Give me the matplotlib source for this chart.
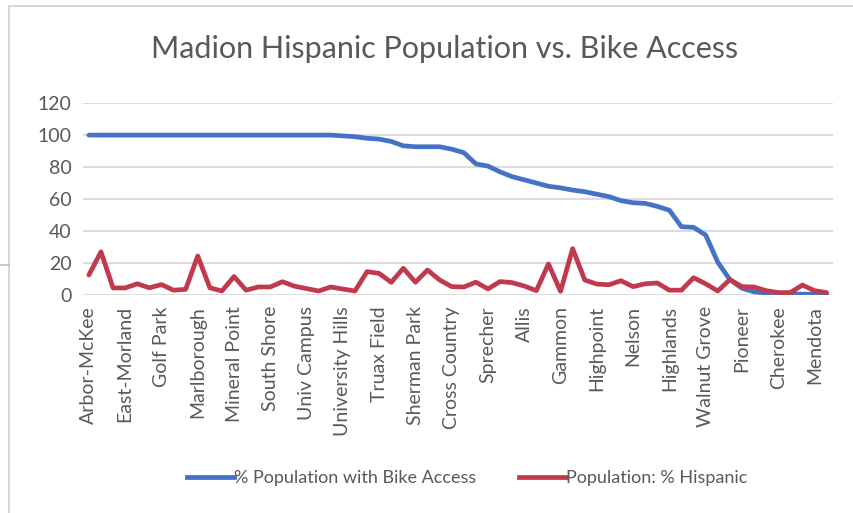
import numpy as np
import matplotlib
matplotlib.use('Agg')
import matplotlib.pyplot as plt
from matplotlib.lines import Line2D

# labels shown on the axis (every third neighbourhood)
shown_labels = ['Arbor-McKee', 'East-Morland', 'Golf Park', 'Marlborough', 'Mineral Point',
                'South Shore', 'Univ Campus', 'University Hills', 'Truax Field', 'Sherman Park',
                'Cross Country', 'Sprecher', 'Allis', 'Gammon', 'Highpoint', 'Nelson',
                'Highlands', 'Walnut Grove', 'Pioneer', 'Cherokee', 'Mendota']
label_step = 3

bike_access = [100, 100, 100, 100, 100, 100, 100, 100, 100, 100,
               100, 100, 100, 100, 100, 100, 100, 100, 100, 100,
               100, 99.5, 99, 98, 97.5, 96, 93.3, 92.7, 92.7, 92.7,
               91.2, 89, 82, 80.6, 77, 74, 72, 70, 68, 67,
               65.6, 64.6, 63, 61.5, 59, 57.7, 57.3, 55.4, 53, 42.7,
               42.3, 37.5, 20.5, 9.6, 4.2, 2, 1.2, 0.8, 0.7, 0.5,
               0.5, 0.2]

hispanic = [12.5, 27, 4.4, 4.4, 7, 4.5, 6.5, 3, 3.5, 24.4,
            4.5, 2.5, 11.5, 3, 5, 5, 8.3, 5.5, 4, 2.5,
            5, 3.7, 2.5, 14.6, 13.5, 7.9, 16.7, 8, 15.6, 9.4,
            5.2, 5, 8, 3.8, 8.4, 7.7, 5.6, 2.7, 19.4, 2.3,
            29, 9.4, 6.8, 6.4, 8.9, 5.2, 7, 7.5, 3, 3,
            10.8, 7, 2.5, 9.6, 5.2, 5, 2.7, 1.5, 1.5, 6.2,
            2.7, 1.5]

blue = '#4472C4'
red = '#C0394D'
gray_txt = '#595959'

plt.rcParams['font.family'] = ['Lato', 'DejaVu Sans']

fig = plt.figure(figsize=(8.54, 5.13), dpi=100)
ax = fig.add_axes([0.097, 0.425, 0.878, 0.374])

x = np.arange(len(bike_access))
ax.plot(x, bike_access, color=blue, lw=3.4, solid_capstyle='round', zorder=3)
ax.plot(x, hispanic, color=red, lw=3.4, solid_capstyle='round', zorder=4)

ax.set_xlim(-0.5, len(x) - 0.5)
ax.set_ylim(0, 120)
ax.set_yticks(range(0, 121, 20))
ax.set_xticks(x[::label_step])
ax.set_xticklabels(shown_labels, rotation=90, fontsize=14, color=gray_txt)
ax.tick_params(axis='y', labelsize=14, labelcolor=gray_txt, length=0, pad=8)
ax.tick_params(axis='x', length=0, pad=8)
ax.grid(axis='y', color='#D9D9D9', lw=1.3)
ax.set_axisbelow(True)
for s in ax.spines.values():
    s.set_visible(False)

fig.text(0.52, 0.905, 'Madion Hispanic Population vs. Bike Access',
         ha='center', va='center', fontsize=22, color=gray_txt)

handles = [Line2D([], [], color=blue, lw=3.4), Line2D([], [], color=red, lw=3.4)]
fig.legend(handles, ['% Population with Bike Access', 'Population: % Hispanic'],
           loc='center', bbox_to_anchor=(0.547, 0.068), ncol=2, frameon=False,
           fontsize=13, handlelength=2.6, handletextpad=0.0, columnspacing=2.4,
           labelcolor=gray_txt)

# chart frame edges seen in the screenshot
fig.add_artist(Line2D([0.011, 0.011], [0, 0.988], color='#CFCFCF', lw=1.2))
fig.add_artist(Line2D([0.011, 1.0], [0.988, 0.988], color='#CFCFCF', lw=1.2))
fig.add_artist(Line2D([0.0, 0.011], [0.483, 0.483], color='#BDBDBD', lw=1.2))

fig.savefig('out.png', dpi=100)
